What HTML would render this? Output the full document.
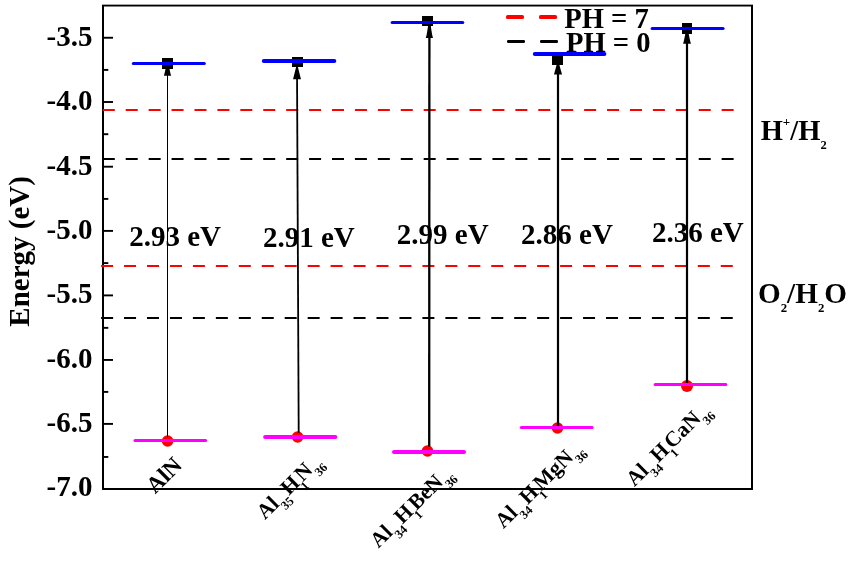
<!DOCTYPE html>
<html><head><meta charset="utf-8"><title>Band edges</title>
<style>
html,body{margin:0;padding:0;background:#fff;}
body{width:849px;height:561px;overflow:hidden;}
svg{display:block;position:absolute;left:0;top:0;}
text{font-family:"Liberation Serif",serif;font-weight:bold;fill:#000;}
.cr{shape-rendering:crispEdges;}
</style></head><body>
<svg width="849" height="561" viewBox="0 0 849 561">
<rect x="0" y="0" width="849" height="561" fill="#fff"/>

<g class="cr" fill="#000">
<rect x="102" y="5" width="2" height="485"/>
<rect x="751" y="5" width="2" height="485"/>
</g><rect x="102" y="4.65" width="651" height="1.85" fill="#000"/><g class="cr" fill="#000">
<rect x="102" y="488" width="651" height="2"/>
</g><g fill="#000">
<rect x="104" y="36.80" width="9" height="1.9"/>
<rect x="104" y="101.05" width="9" height="1.9"/>
<rect x="104" y="165.75" width="9" height="1.9"/>
<rect x="104" y="229.95" width="9" height="1.9"/>
<rect x="104" y="294.45" width="9" height="1.9"/>
<rect x="104" y="359.00" width="9" height="1.9"/>
<rect x="104" y="422.95" width="9" height="1.9"/>
<rect x="104" y="68.95" width="4.3" height="1.9"/>
<rect x="104" y="133.25" width="4.3" height="1.9"/>
<rect x="104" y="197.95" width="4.3" height="1.9"/>
<rect x="104" y="262.15" width="4.3" height="1.9"/>
<rect x="104" y="326.90" width="4.3" height="1.9"/>
<rect x="104" y="390.95" width="4.3" height="1.9"/>
<rect x="104" y="456.00" width="4.3" height="1.9"/>
</g>
<rect x="102.80" y="109" width="12" height="2" fill="#ff0000"/>
<rect x="125.72" y="109" width="12" height="2" fill="#ff0000"/>
<rect x="148.64" y="109" width="12" height="2" fill="#ff0000"/>
<rect x="171.56" y="109" width="12" height="2" fill="#ff0000"/>
<rect x="194.48" y="109" width="12" height="2" fill="#ff0000"/>
<rect x="217.40" y="109" width="12" height="2" fill="#ff0000"/>
<rect x="240.32" y="109" width="12" height="2" fill="#ff0000"/>
<rect x="263.24" y="109" width="12" height="2" fill="#ff0000"/>
<rect x="286.16" y="109" width="12" height="2" fill="#ff0000"/>
<rect x="309.08" y="109" width="12" height="2" fill="#ff0000"/>
<rect x="332.00" y="109" width="12" height="2" fill="#ff0000"/>
<rect x="354.92" y="109" width="12" height="2" fill="#ff0000"/>
<rect x="377.84" y="109" width="12" height="2" fill="#ff0000"/>
<rect x="400.76" y="109" width="12" height="2" fill="#ff0000"/>
<rect x="423.68" y="109" width="12" height="2" fill="#ff0000"/>
<rect x="446.60" y="109" width="12" height="2" fill="#ff0000"/>
<rect x="469.52" y="109" width="12" height="2" fill="#ff0000"/>
<rect x="492.44" y="109" width="12" height="2" fill="#ff0000"/>
<rect x="515.36" y="109" width="12" height="2" fill="#ff0000"/>
<rect x="538.28" y="109" width="12" height="2" fill="#ff0000"/>
<rect x="561.20" y="109" width="12" height="2" fill="#ff0000"/>
<rect x="584.12" y="109" width="12" height="2" fill="#ff0000"/>
<rect x="607.04" y="109" width="12" height="2" fill="#ff0000"/>
<rect x="629.96" y="109" width="12" height="2" fill="#ff0000"/>
<rect x="652.88" y="109" width="12" height="2" fill="#ff0000"/>
<rect x="675.80" y="109" width="12" height="2" fill="#ff0000"/>
<rect x="698.72" y="109" width="12" height="2" fill="#ff0000"/>
<rect x="721.64" y="109" width="12" height="2" fill="#ff0000"/>
<rect x="101.10" y="265" width="12" height="2" fill="#ff0000"/>
<rect x="124.05" y="265" width="12" height="2" fill="#ff0000"/>
<rect x="147.00" y="265" width="12" height="2" fill="#ff0000"/>
<rect x="169.95" y="265" width="12" height="2" fill="#ff0000"/>
<rect x="192.90" y="265" width="12" height="2" fill="#ff0000"/>
<rect x="215.85" y="265" width="12" height="2" fill="#ff0000"/>
<rect x="238.80" y="265" width="12" height="2" fill="#ff0000"/>
<rect x="261.75" y="265" width="12" height="2" fill="#ff0000"/>
<rect x="284.70" y="265" width="12" height="2" fill="#ff0000"/>
<rect x="307.65" y="265" width="12" height="2" fill="#ff0000"/>
<rect x="330.60" y="265" width="12" height="2" fill="#ff0000"/>
<rect x="353.55" y="265" width="12" height="2" fill="#ff0000"/>
<rect x="376.50" y="265" width="12" height="2" fill="#ff0000"/>
<rect x="399.45" y="265" width="12" height="2" fill="#ff0000"/>
<rect x="422.40" y="265" width="12" height="2" fill="#ff0000"/>
<rect x="445.35" y="265" width="12" height="2" fill="#ff0000"/>
<rect x="468.30" y="265" width="12" height="2" fill="#ff0000"/>
<rect x="491.25" y="265" width="12" height="2" fill="#ff0000"/>
<rect x="514.20" y="265" width="12" height="2" fill="#ff0000"/>
<rect x="537.15" y="265" width="12" height="2" fill="#ff0000"/>
<rect x="560.10" y="265" width="12" height="2" fill="#ff0000"/>
<rect x="583.05" y="265" width="12" height="2" fill="#ff0000"/>
<rect x="606.00" y="265" width="12" height="2" fill="#ff0000"/>
<rect x="628.95" y="265" width="12" height="2" fill="#ff0000"/>
<rect x="651.90" y="265" width="12" height="2" fill="#ff0000"/>
<rect x="674.85" y="265" width="12" height="2" fill="#ff0000"/>
<rect x="697.80" y="265" width="12" height="2" fill="#ff0000"/>
<rect x="720.75" y="265" width="12" height="2" fill="#ff0000"/>
<rect x="102.80" y="158" width="12" height="2" fill="#000"/>
<rect x="125.72" y="158" width="12" height="2" fill="#000"/>
<rect x="148.64" y="158" width="12" height="2" fill="#000"/>
<rect x="171.56" y="158" width="12" height="2" fill="#000"/>
<rect x="194.48" y="158" width="12" height="2" fill="#000"/>
<rect x="217.40" y="158" width="12" height="2" fill="#000"/>
<rect x="240.32" y="158" width="12" height="2" fill="#000"/>
<rect x="263.24" y="158" width="12" height="2" fill="#000"/>
<rect x="286.16" y="158" width="12" height="2" fill="#000"/>
<rect x="309.08" y="158" width="12" height="2" fill="#000"/>
<rect x="332.00" y="158" width="12" height="2" fill="#000"/>
<rect x="354.92" y="158" width="12" height="2" fill="#000"/>
<rect x="377.84" y="158" width="12" height="2" fill="#000"/>
<rect x="400.76" y="158" width="12" height="2" fill="#000"/>
<rect x="423.68" y="158" width="12" height="2" fill="#000"/>
<rect x="446.60" y="158" width="12" height="2" fill="#000"/>
<rect x="469.52" y="158" width="12" height="2" fill="#000"/>
<rect x="492.44" y="158" width="12" height="2" fill="#000"/>
<rect x="515.36" y="158" width="12" height="2" fill="#000"/>
<rect x="538.28" y="158" width="12" height="2" fill="#000"/>
<rect x="561.20" y="158" width="12" height="2" fill="#000"/>
<rect x="584.12" y="158" width="12" height="2" fill="#000"/>
<rect x="607.04" y="158" width="12" height="2" fill="#000"/>
<rect x="629.96" y="158" width="12" height="2" fill="#000"/>
<rect x="652.88" y="158" width="12" height="2" fill="#000"/>
<rect x="675.80" y="158" width="12" height="2" fill="#000"/>
<rect x="698.72" y="158" width="12" height="2" fill="#000"/>
<rect x="721.64" y="158" width="12" height="2" fill="#000"/>
<rect x="101.10" y="317" width="12" height="2" fill="#000"/>
<rect x="124.05" y="317" width="12" height="2" fill="#000"/>
<rect x="147.00" y="317" width="12" height="2" fill="#000"/>
<rect x="169.95" y="317" width="12" height="2" fill="#000"/>
<rect x="192.90" y="317" width="12" height="2" fill="#000"/>
<rect x="215.85" y="317" width="12" height="2" fill="#000"/>
<rect x="238.80" y="317" width="12" height="2" fill="#000"/>
<rect x="261.75" y="317" width="12" height="2" fill="#000"/>
<rect x="284.70" y="317" width="12" height="2" fill="#000"/>
<rect x="307.65" y="317" width="12" height="2" fill="#000"/>
<rect x="330.60" y="317" width="12" height="2" fill="#000"/>
<rect x="353.55" y="317" width="12" height="2" fill="#000"/>
<rect x="376.50" y="317" width="12" height="2" fill="#000"/>
<rect x="399.45" y="317" width="12" height="2" fill="#000"/>
<rect x="422.40" y="317" width="12" height="2" fill="#000"/>
<rect x="445.35" y="317" width="12" height="2" fill="#000"/>
<rect x="468.30" y="317" width="12" height="2" fill="#000"/>
<rect x="491.25" y="317" width="12" height="2" fill="#000"/>
<rect x="514.20" y="317" width="12" height="2" fill="#000"/>
<rect x="537.15" y="317" width="12" height="2" fill="#000"/>
<rect x="560.10" y="317" width="12" height="2" fill="#000"/>
<rect x="583.05" y="317" width="12" height="2" fill="#000"/>
<rect x="606.00" y="317" width="12" height="2" fill="#000"/>
<rect x="628.95" y="317" width="12" height="2" fill="#000"/>
<rect x="651.90" y="317" width="12" height="2" fill="#000"/>
<rect x="674.85" y="317" width="12" height="2" fill="#000"/>
<rect x="697.80" y="317" width="12" height="2" fill="#000"/>
<rect x="720.75" y="317" width="12" height="2" fill="#000"/>
<text x="92.5" y="45.9" font-size="29" text-anchor="end">-3.5</text>
<text x="92.5" y="110.2" font-size="29" text-anchor="end">-4.0</text>
<text x="92.5" y="174.6" font-size="29" text-anchor="end">-4.5</text>
<text x="92.5" y="238.9" font-size="29" text-anchor="end">-5.0</text>
<text x="92.5" y="303.3" font-size="29" text-anchor="end">-5.5</text>
<text x="92.5" y="367.7" font-size="29" text-anchor="end">-6.0</text>
<text x="92.5" y="432.0" font-size="29" text-anchor="end">-6.5</text>
<text x="92.5" y="496.4" font-size="29" text-anchor="end">-7.0</text>
<text transform="translate(29,251.4) rotate(-90) scale(1,1.045)" font-size="29" text-anchor="middle">Energy (eV)</text>
<circle cx="167.6" cy="441" r="5.8" fill="#ff0000"/>
<line x1="167.5" y1="62" x2="167.5" y2="437.7" stroke="#000" stroke-width="1"/>
<polygon points="167.0,62 168.0,62 170.3,72.7 171.1,75.7 163.9,75.7 164.7,72.7" fill="#000"/>
<rect class="cr" x="162" y="58" width="11" height="10.7" fill="#000"/>
<line x1="133.3" y1="63.5" x2="204.3" y2="63.5" stroke="#0000ff" stroke-width="3" stroke-linecap="round"/>
<line x1="135.0" y1="440.5" x2="205.6" y2="440.5" stroke="#ff00ff" stroke-width="3" stroke-linecap="round"/>
<circle cx="297.6" cy="437" r="5.8" fill="#ff0000"/>
<line x1="297" y1="67" x2="298.7" y2="432.8" stroke="#000" stroke-width="1.8"/>
<polygon points="296.1,67 297.9,67 300.2,76.3 301,79.3 293,79.3 293.8,76.3" fill="#000"/>
<rect class="cr" x="292" y="57" width="11" height="10.0" fill="#000"/>
<line x1="263.8" y1="61.0" x2="334.3" y2="61.0" stroke="#0000ff" stroke-width="4" stroke-linecap="round"/>
<line x1="265.1" y1="437.0" x2="335.3" y2="437.0" stroke="#ff00ff" stroke-width="4" stroke-linecap="round"/>
<circle cx="427.5" cy="451" r="5.8" fill="#ff0000"/>
<line x1="429.4" y1="25" x2="429.2" y2="446.6" stroke="#000" stroke-width="2.3"/>
<polygon points="428.25,25 430.54999999999995,25 432.2,35 433.0,38 425.79999999999995,38 426.6,35" fill="#000"/>
<rect class="cr" x="422" y="16" width="11" height="10.0" fill="#000"/>
<line x1="392.1" y1="22.5" x2="462.8" y2="22.5" stroke="#0000ff" stroke-width="3" stroke-linecap="round"/>
<line x1="394.0" y1="452.0" x2="464.0" y2="452.0" stroke="#ff00ff" stroke-width="4" stroke-linecap="round"/>
<circle cx="557.5" cy="428" r="5.8" fill="#ff0000"/>
<line x1="558" y1="64" x2="558" y2="427" stroke="#000" stroke-width="2.2"/>
<polygon points="556.9,64 559.1,64 561.2,71.6 562,74.6 554,74.6 554.8,71.6" fill="#000"/>
<rect class="cr" x="552" y="55" width="11" height="10.0" fill="#000"/>
<line x1="534.8" y1="54.0" x2="604.4" y2="54.0" stroke="#0000ff" stroke-width="4" stroke-linecap="round"/>
<line x1="521.3" y1="427.5" x2="592.1" y2="427.5" stroke="#ff00ff" stroke-width="3" stroke-linecap="round"/>
<circle cx="687" cy="386" r="6" fill="#ff0000"/>
<line x1="687" y1="31" x2="687" y2="384" stroke="#000" stroke-width="2.2"/>
<polygon points="685.9,31 688.1,31 690.1,40.7 690.9,43.7 683.1,43.7 683.9,40.7" fill="#000"/>
<rect class="cr" x="682" y="23" width="10" height="10.6" fill="#000"/>
<line x1="652.1" y1="28.5" x2="723.1" y2="28.5" stroke="#0000ff" stroke-width="3" stroke-linecap="round"/>
<line x1="655.1" y1="384.5" x2="725.9" y2="384.5" stroke="#ff00ff" stroke-width="3" stroke-linecap="round"/>
<text x="129.2" y="245.8" font-size="29">2.93 eV</text>
<text x="263.0" y="246.8" font-size="29">2.91 eV</text>
<text x="396.8" y="244.3" font-size="29">2.99 eV</text>
<text x="521.1" y="244" font-size="29">2.86 eV</text>
<text x="652.0" y="241.7" font-size="29">2.36 eV</text>
<rect x="506" y="15" width="18" height="4" rx="1.6" fill="#ff0000"/><rect x="539" y="15" width="18" height="4" rx="1.6" fill="#ff0000"/>
<rect x="507" y="40" width="18" height="3" rx="1.2" fill="#000"/><rect x="540" y="40" width="18" height="3" rx="1.2" fill="#000"/>
<text x="564.2" y="28.2" font-size="28.6">PH = 7</text>
<text x="566" y="51.7" font-size="28.6">PH = 0</text>
<text x="760.7" y="140" font-size="28.5">H<tspan font-size="13" dy="-14.4">+</tspan><tspan dy="14.4">/H</tspan><tspan font-size="12.5" dy="8.8">2</tspan></text>
<text x="758" y="302.9" font-size="29.2">O<tspan font-size="12.8" dy="8.8">2</tspan><tspan dy="-8.8">/H</tspan><tspan font-size="12.8" dy="8.8">2</tspan><tspan dy="-8.8">O</tspan></text>
<text transform="translate(183.2,466.5) rotate(-45)" font-size="23" text-anchor="end"><tspan font-size="23" dy="0">AlN</tspan></text>
<text transform="translate(322.6,462.5) rotate(-45)" font-size="21.5" text-anchor="end"><tspan font-size="21.5" dy="0">Al</tspan><tspan font-size="12.5" dy="8">35</tspan><tspan font-size="21.5" dy="-8">H</tspan><tspan font-size="12.5" dy="8" dx="-1.5" letter-spacing="-2.0">1</tspan><tspan font-size="21.5" dy="-8">N</tspan><tspan font-size="12.5" dy="8">36</tspan></text>
<text transform="translate(453.1,474.3) rotate(-45)" font-size="21.5" text-anchor="end"><tspan font-size="21.5" dy="0">Al</tspan><tspan font-size="12.5" dy="8">34</tspan><tspan font-size="21.5" dy="-8">H</tspan><tspan font-size="12.5" dy="8" dx="-1.5" letter-spacing="-2.0">1</tspan><tspan font-size="21.5" dy="-8">BeN</tspan><tspan font-size="12.5" dy="8">36</tspan></text>
<text transform="translate(583.2,449.6) rotate(-45)" font-size="21.5" text-anchor="end"><tspan font-size="21.5" dy="0">Al</tspan><tspan font-size="12.5" dy="8">34</tspan><tspan font-size="21.5" dy="-8">H</tspan><tspan font-size="12.5" dy="8" dx="-1.5" letter-spacing="-2.0">1</tspan><tspan font-size="21.5" dy="-8">MgN</tspan><tspan font-size="12.5" dy="8">36</tspan></text>
<text transform="translate(710.7,411) rotate(-45)" font-size="21.5" text-anchor="end"><tspan font-size="21.5" dy="0">Al</tspan><tspan font-size="12.5" dy="8">34</tspan><tspan font-size="21.5" dy="-8">H</tspan><tspan font-size="12.5" dy="8" dx="-1.5" letter-spacing="-2.0">1</tspan><tspan font-size="21.5" dy="-8">CaN</tspan><tspan font-size="12.5" dy="8">36</tspan></text>
</svg></body></html>
